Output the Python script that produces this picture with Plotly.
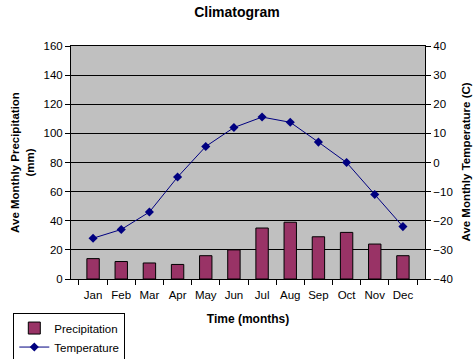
import plotly.graph_objects as go

months = ["Jan", "Feb", "Mar", "Apr", "May", "Jun", "Jul", "Aug", "Sep", "Oct", "Nov", "Dec"]
precipitation = [14, 12, 11, 10, 16, 20, 35, 39, 29, 32, 24, 16]
temperature = [-26, -23, -17, -5, 5.5, 12, 15.6, 13.8, 7, 0, -11, -22]

font_family = "Liberation Sans, Arial, sans-serif"

fig = go.Figure()
fig.add_trace(go.Bar(
    x=months, y=precipitation, name="Precipitation",
    marker=dict(color="#993366", line=dict(color="black", width=1)),
    yaxis="y",
))
fig.add_trace(go.Scatter(
    x=months, y=temperature, name="Temperature", mode="lines+markers",
    line=dict(color="#000080", width=1),
    marker=dict(symbol="diamond", size=7, color="#000080"),
    yaxis="y2",
))

fig.update_layout(
    width=474, height=359,
    margin=dict(l=71, r=49, t=46, b=80, autoexpand=False),
    paper_bgcolor="white",
    plot_bgcolor="#c0c0c0",
    font=dict(family=font_family, size=11, color="black"),
    title=dict(text="<b>Climatogram</b>", x=0.5, xanchor="center", y=0.98, yanchor="top",
               font=dict(size=14, family=font_family)),
    bargap=0.56,
    showlegend=True,
    legend=dict(x=-0.163, y=-0.144, xanchor="left", yanchor="top",
                bordercolor="black", borderwidth=1, bgcolor="white",
                font=dict(size=11.5), tracegroupgap=0, itemwidth=30),
    xaxis=dict(
        type="category", tickson="boundaries", ticks="outside", ticklen=5,
        tickcolor="black", showline=True, linecolor="black", linewidth=1, mirror=True,
        showgrid=False, tickangle=0, automargin=False, ticklabelstandoff=5,
        title=dict(text="<b>Time (months)</b>", font=dict(size=12), standoff=14),
        tickfont=dict(size=11.5),
    ),
    yaxis=dict(
        range=[0, 160], dtick=20, ticks="outside", ticklen=5, tickcolor="black",
        showline=True, linecolor="black", linewidth=1, automargin=False,
        showgrid=True, gridcolor="black", gridwidth=1, zeroline=False,
        title=dict(text="<b>Ave Monthly Precipitation<br>(mm)</b>", font=dict(size=11.5), standoff=6),
        tickfont=dict(size=11.5),
    ),
    yaxis2=dict(
        range=[-40, 40], dtick=10, overlaying="y", side="right",
        ticks="outside", ticklen=5, tickcolor="black", automargin=False,
        showline=True, linecolor="black", linewidth=1,
        showgrid=False, zeroline=False,
        tickfont=dict(size=11.5),
    ),
    annotations=[dict(
        text="<b>Ave Monthly Temperature (C)</b>", textangle=-90,
        xref="paper", yref="paper", x=1.0 + 40 / 354, y=0.5,
        xanchor="center", yanchor="middle", showarrow=False,
        font=dict(size=11.5, family=font_family),
    )],
)

fig.write_html("out.html", config={"displayModeBar": False},
               post_script="document.body.style.margin='0';")
